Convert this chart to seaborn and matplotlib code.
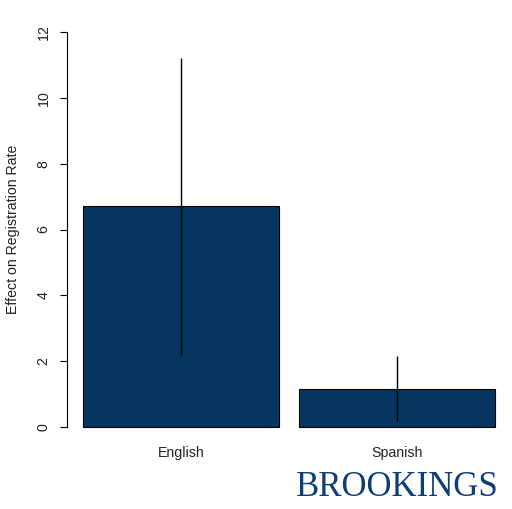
import matplotlib
matplotlib.use("Agg")
import matplotlib.pyplot as plt
import seaborn as sns
import pandas as pd

categories = ["English", "Spanish"]
effects = [6.7, 1.15]
ci_low = [2.15, 0.2]
ci_high = [11.2, 2.15]
y_ticks = [0, 2, 4, 6, 8, 10, 12]
y_label = "Effect on Registration Rate"
logo = "BROOKINGS"

sns.set_theme(style="white")
plt.rcParams["font.family"] = ["Liberation Sans", "DejaVu Sans"]

df = pd.DataFrame({"lang": categories, "effect": effects})

fig = plt.figure(figsize=(5.12, 5.09), dpi=100)
ax = fig.add_axes([66.5 / 512, (509 - 443) / 509, 445 / 512, 427 / 509])

sns.barplot(data=df, x="lang", y="effect", order=categories, color="#06365f",
            saturation=1, width=0.907, edgecolor="black", linewidth=0.8,
            errorbar=None, ax=ax)
ax.vlines(x=range(len(categories)), ymin=ci_low, ymax=ci_high, color="black", linewidth=1.0)

fs = 10.2
ax.set_xlim(-0.530, 1.530)
ax.set_ylim(-0.48, 12.48)
ax.set_yticks(y_ticks)
ax.set_yticklabels([str(t) for t in y_ticks], rotation=90, va="center", fontsize=fs, color="#222222")
ax.tick_params(axis="y", left=True, length=5, width=0.8, color="black", pad=6.5)
ax.tick_params(axis="x", bottom=False, length=0, pad=2.5, labelsize=fs, labelcolor="#222222")
ax.set_xlabel("")
ax.set_ylabel(y_label, fontsize=fs, color="#222222", labelpad=12)

for s in ["top", "right", "bottom"]:
    ax.spines[s].set_visible(False)
ax.spines["left"].set_bounds(0, 12)
ax.spines["left"].set_color("black")
ax.spines["left"].set_linewidth(0.8)
ax.grid(False)

fig.text(397.5 / 512, 1 - 488 / 509, logo, ha="center", va="center",
         fontsize=25, family=["Liberation Serif", "DejaVu Serif"], color="#0f3d76")

fig.savefig("out.png", dpi=100)
